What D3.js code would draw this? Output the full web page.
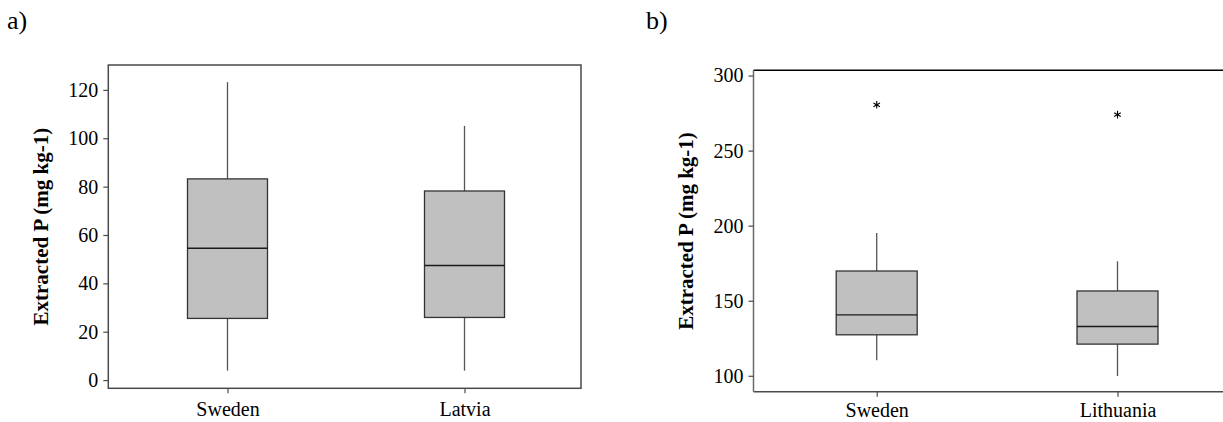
<!DOCTYPE html>
<html>
<head>
<meta charset="utf-8">
<script src="https://cdn.jsdelivr.net/npm/d3@7"></script>
<style>
  html, body { margin: 0; padding: 0; background: #fff; }
  svg { display: block; }
  svg text { font-family: "Liberation Serif", "Times New Roman", Times, serif !important; fill: #000; }
</style>
</head>
<body>
<script>
// ---- Data: panel a ----
const catsA = ["Sweden", "Latvia"];
const minA = [3.9, 3.9];
const q1A = [25.5, 25.9];
const medA = [54.5, 47.4];
const q3A = [83.2, 78.2];
const maxA = [123.2, 105.1];
const ticksA = [0, 20, 40, 60, 80, 100, 120];

// ---- Data: panel b ----
const catsB = ["Sweden", "Lithuania"];
const minB = [110.4, 99.8];
const q1B = [127.3, 121.1];
const medB = [140.6, 132.8];
const q3B = [169.8, 156.5];
const maxB = [195.1, 176.3];
const outB = [280.5, 274.0];
const ticksB = [100, 150, 200, 250, 300];

const yTitle = "Extracted P (mg kg-1)";
const FONT = '"Liberation Serif", "Times New Roman", Times, serif';

const W = 1223, H = 422;
const svg = d3.select("body").append("svg").attr("width", W).attr("height", H);

function panel(opt) {
  const g = svg.append("g");
  const x = d3.scalePoint().domain(opt.cats).range(opt.xRange);
  const y = d3.scaleLinear().domain(opt.yDomain).range([opt.bottom, opt.top]);

  // frame / axes lines
  if (opt.fullFrame) {
    g.append("rect")
      .attr("x", opt.left).attr("y", opt.top)
      .attr("width", opt.right - opt.left).attr("height", opt.bottom - opt.top)
      .attr("fill", "none").attr("stroke", "#4a4a4a").attr("stroke-width", 1.5);
  } else {
    g.append("line").attr("x1", opt.left).attr("x2", opt.right)
      .attr("y1", opt.top).attr("y2", opt.top)
      .attr("stroke", "#000").attr("stroke-width", 1.5);
    g.append("line").attr("x1", opt.left).attr("x2", opt.right)
      .attr("y1", opt.bottom).attr("y2", opt.bottom)
      .attr("stroke", "#4a4a4a").attr("stroke-width", 1.5);
    g.append("line").attr("x1", opt.left).attr("x2", opt.left)
      .attr("y1", opt.top).attr("y2", opt.bottom)
      .attr("stroke", "#6a6a6a").attr("stroke-width", 1.5);
  }

  // y axis
  const ya = g.append("g").attr("transform", `translate(${opt.left},0)`)
    .call(d3.axisLeft(y).tickValues(opt.ticks).tickSize(5).tickPadding(5).tickFormat(d3.format("d")))
    .attr("font-family", FONT).attr("font-size", 20);
  ya.select(".domain").remove();
  ya.selectAll(".tick line").attr("stroke", "#4a4a4a").attr("stroke-width", 1.2);
  ya.selectAll(".tick text").attr("fill", "#000");

  // x axis
  const xa = g.append("g").attr("transform", `translate(0,${opt.bottom})`)
    .call(d3.axisBottom(x).tickSize(5).tickPadding(opt.xPad))
    .attr("font-family", FONT).attr("font-size", 20);
  xa.select(".domain").remove();
  xa.selectAll(".tick line").attr("stroke", "#4a4a4a").attr("stroke-width", 1.2);
  xa.selectAll(".tick text").attr("fill", "#000");

  const bw = opt.boxW;
  const data = opt.cats.map((c, i) => ({c, i}));

  // whiskers
  g.selectAll(".wu").data(data).enter().append("line")
    .attr("x1", d => x(d.c)).attr("x2", d => x(d.c))
    .attr("y1", d => y(opt.q3[d.i])).attr("y2", d => y(opt.max[d.i]))
    .attr("stroke", "#555").attr("stroke-width", 1.3);
  g.selectAll(".wl").data(data).enter().append("line")
    .attr("x1", d => x(d.c)).attr("x2", d => x(d.c))
    .attr("y1", d => y(opt.q1[d.i])).attr("y2", d => y(opt.min[d.i]))
    .attr("stroke", "#555").attr("stroke-width", 1.3);

  // boxes
  g.selectAll(".bx").data(data).enter().append("rect")
    .attr("x", d => x(d.c) - bw / 2).attr("width", bw)
    .attr("y", d => y(opt.q3[d.i]))
    .attr("height", d => y(opt.q1[d.i]) - y(opt.q3[d.i]))
    .attr("fill", "#c0c0c0").attr("stroke", "#333").attr("stroke-width", 1.3);

  // medians
  g.selectAll(".md").data(data).enter().append("line")
    .attr("x1", d => x(d.c) - bw / 2).attr("x2", d => x(d.c) + bw / 2)
    .attr("y1", d => y(opt.med[d.i])).attr("y2", d => y(opt.med[d.i]))
    .attr("stroke", "#1a1a1a").attr("stroke-width", 1.4);

  // outliers
  if (opt.out) {
    g.selectAll(".ol").data(data).enter().append("path")
      .attr("transform", d => `translate(${x(d.c)},${y(opt.out[d.i])})`)
      .attr("d", d3.symbol(d3.symbolAsterisk, 40))
      .attr("fill", "none").attr("stroke", "#000").attr("stroke-width", 1.1);
  }

  // y title
  g.append("text")
    .attr("transform", `translate(${opt.titleX},${(opt.top + opt.bottom) / 2}) rotate(-90)`)
    .attr("text-anchor", "middle")
    .attr("font-family", FONT)
    .style("font-weight", "bold").style("font-size", "21px")
    .text(yTitle);

  // panel label
  g.append("text").attr("x", opt.labelX).attr("y", 29)
    .attr("font-family", FONT)
    .style("font-size", "26px").text(opt.label);
}

panel({
  cats: catsA, min: minA, q1: q1A, med: medA, q3: q3A, max: maxA, ticks: ticksA,
  yDomain: [-3.4, 130.3], top: 65, bottom: 388.3, left: 108.3, right: 581,
  xRange: [227.5, 464.5], boxW: 80, fullFrame: true, titleX: 47.5, labelX: 7, label: "a)", xPad: 9
});

panel({
  cats: catsB, min: minB, q1: q1B, med: medB, q3: q3B, max: maxB, out: outB, ticks: ticksB,
  yDomain: [89.4, 303.5], top: 70.3, bottom: 391.7, left: 753.5, right: 1223,
  xRange: [876.7, 1117.5], boxW: 81, fullFrame: false, titleX: 693, labelX: 646, label: "b)", xPad: 6
});
</script>
</body>
</html>
